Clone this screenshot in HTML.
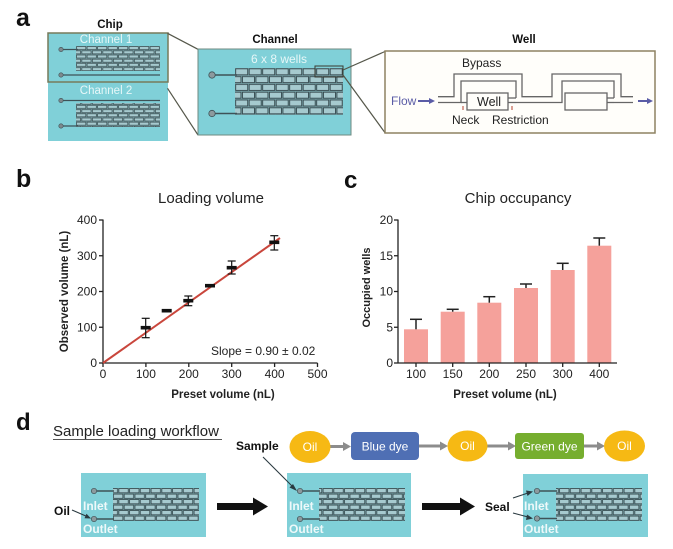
<!DOCTYPE html>
<html><head><meta charset="utf-8"><style>
html,body{margin:0;padding:0;background:#fff;}
svg{display:block;font-family:"Liberation Sans",Arial,sans-serif;}
</style></head><body>
<svg width="673" height="549" viewBox="0 0 673 549" xmlns="http://www.w3.org/2000/svg">
<defs>
<pattern id="pChip" patternUnits="userSpaceOnUse" x="76" y="46" width="10.5" height="8.4">
<rect x="0" y="0" width="10.5" height="8.4" fill="#7aa6ab"/>
<rect x="0.6" y="0.6" width="9.2" height="3" fill="#a6cacf" stroke="#3a4c50" stroke-width="0.7"/>
<rect x="5.85" y="4.8" width="9.2" height="3" fill="#a6cacf" stroke="#3a4c50" stroke-width="0.7"/>
<rect x="-4.65" y="4.8" width="9.2" height="3" fill="#a6cacf" stroke="#3a4c50" stroke-width="0.7"/>
</pattern>
<pattern id="pChan" patternUnits="userSpaceOnUse" x="235" y="68" width="13.5" height="15.6">
<rect x="0" y="0" width="13.5" height="15.6" fill="#7aa6ab"/>
<rect x="0.7" y="0.8" width="12" height="6" fill="#a6cacf" stroke="#36494e" stroke-width="0.9"/>
<rect x="7.45" y="8.6" width="12" height="6" fill="#a6cacf" stroke="#36494e" stroke-width="0.9"/>
<rect x="-6.05" y="8.6" width="12" height="6" fill="#a6cacf" stroke="#36494e" stroke-width="0.9"/>
</pattern>
<pattern id="pD" patternUnits="userSpaceOnUse" x="0" y="488" width="10.75" height="11">
<rect x="0" y="0" width="10.75" height="11" fill="#7aa6ab"/>
<rect x="0.6" y="0.6" width="9.4" height="4.2" fill="#a6cacf" stroke="#36494e" stroke-width="0.8"/>
<rect x="5.97" y="6.1" width="9.4" height="4.2" fill="#a6cacf" stroke="#36494e" stroke-width="0.8"/>
<rect x="-4.78" y="6.1" width="9.4" height="4.2" fill="#a6cacf" stroke="#36494e" stroke-width="0.8"/>
</pattern>
</defs>

<!-- ============ PANEL A ============ -->
<text x="16" y="26" font-size="25" font-weight="bold" fill="#111">a</text>
<text x="110" y="28" font-size="11.5" font-weight="bold" text-anchor="middle" fill="#111">Chip</text>
<text x="275" y="43" font-size="11.5" font-weight="bold" text-anchor="middle" fill="#111">Channel</text>
<text x="524" y="43" font-size="11.5" font-weight="bold" text-anchor="middle" fill="#111">Well</text>

<!-- chip -->
<rect x="48" y="82" width="120" height="59" fill="#80d0d8"/>
<rect x="48" y="33" width="120" height="49" fill="#80d0d8" stroke="#777a5a" stroke-width="1.5"/>
<text x="106" y="43" font-size="11.5" text-anchor="middle" fill="#e6f7f8">Channel 1</text>
<text x="106" y="94" font-size="11.5" text-anchor="middle" fill="#e6f7f8">Channel 2</text>
<rect x="76" y="46" width="84" height="25" fill="url(#pChip)"/>
<rect x="76" y="103" width="84" height="24" fill="url(#pChip)"/>
<g stroke="#3e5257" stroke-width="1.2">
<line x1="61" y1="49.5" x2="78" y2="49.5"/>
<line x1="61" y1="75" x2="160" y2="75"/>
<line x1="61" y1="100.5" x2="160" y2="100.5"/>
<line x1="61" y1="126" x2="78" y2="126"/>
</g>
<g fill="#7d8a8e" stroke="#3e5257" stroke-width="0.6">
<circle cx="61" cy="49.5" r="2.2"/><circle cx="61" cy="75" r="2.2"/>
<circle cx="61" cy="100.5" r="2.2"/><circle cx="61" cy="126" r="2.2"/>
</g>
<g stroke="#55574a" stroke-width="1.2">
<line x1="167.5" y1="33.3" x2="198" y2="49.3"/>
<line x1="167.5" y1="88.3" x2="198" y2="135"/>
</g>

<!-- channel -->
<rect x="198" y="49" width="153" height="86" fill="#80d0d8" stroke="#6f8a80" stroke-width="1"/>
<text x="279" y="63" font-size="12" text-anchor="middle" fill="#e6f7f8">6 x 8 wells</text>
<rect x="235" y="68" width="108" height="47" fill="url(#pChan)"/>
<rect x="315" y="66" width="28" height="11" fill="none" stroke="#3a3a30" stroke-width="1"/>
<g stroke="#3e5257" stroke-width="1.6">
<line x1="212" y1="75" x2="237" y2="75"/>
<line x1="212" y1="113.5" x2="237" y2="113.5"/>
</g>
<g fill="#8c9a9e" stroke="#3e5257" stroke-width="0.8">
<circle cx="212" cy="75" r="3.2"/><circle cx="212" cy="113.5" r="3.2"/>
</g>
<g stroke="#55574a" stroke-width="1.2">
<line x1="343" y1="70" x2="385" y2="51.5"/>
<line x1="343" y1="75" x2="385" y2="132.7"/>
</g>

<!-- well -->
<rect x="385" y="51" width="270" height="82" fill="#fffefa" stroke="#8d8262" stroke-width="1.5"/>
<text x="462" y="67" font-size="12" fill="#222">Bypass</text>
<text x="391" y="105" font-size="12" fill="#5a5ca6">Flow</text>
<g stroke="#5a5ca6" stroke-width="2" fill="#5a5ca6">
<line x1="418" y1="101" x2="430" y2="101"/><polygon points="429,98 435,101 429,104" stroke="none"/>
<line x1="638" y1="101" x2="648" y2="101"/><polygon points="647,98 653,101 647,104" stroke="none"/>
</g>
<g fill="none" stroke="#666" stroke-width="1.3">
<polyline points="438,96.7 454,96.7 454,74 522,74 522,96.7 552,96.7 552,74 621,74 621,96.7 633,96.7"/>
<polyline points="438,102.5 461,102.5 461,81 516,81 516,98"/>
<polyline points="516,102.5 562,102.5 562,81 614,81 614,98"/>
<line x1="614" y1="102.5" x2="633" y2="102.5"/>
<rect x="467" y="93" width="41" height="17"/>
<rect x="565" y="93" width="42" height="17"/>
<line x1="461" y1="102.5" x2="467" y2="102.5"/>
<line x1="508" y1="98" x2="516" y2="98"/>
<line x1="508" y1="102.5" x2="516" y2="102.5"/>
<line x1="607" y1="98" x2="614" y2="98"/>
<line x1="607" y1="102.5" x2="614" y2="102.5"/>
</g>
<g stroke="#c06050" stroke-width="1.2">
<line x1="463" y1="106" x2="463" y2="110"/>
<line x1="512" y1="106" x2="512" y2="110"/>
</g>
<text x="477" y="106" font-size="12.5" fill="#222">Well</text>
<text x="452" y="124" font-size="12" fill="#222">Neck</text>
<text x="492" y="124" font-size="12" fill="#222">Restriction</text>

<!-- ============ PANEL B ============ -->
<text x="16" y="187" font-size="25" font-weight="bold" fill="#111">b</text>
<text x="211" y="203" font-size="15" text-anchor="middle" fill="#222">Loading volume</text>
<g stroke="#222" stroke-width="1.3" fill="none">
<line x1="103" y1="219.5" x2="103" y2="363"/>
<line x1="103" y1="363" x2="317.5" y2="363"/>
<line x1="99" y1="363" x2="103" y2="363"/><line x1="99" y1="327.25" x2="103" y2="327.25"/>
<line x1="99" y1="291.5" x2="103" y2="291.5"/><line x1="99" y1="255.75" x2="103" y2="255.75"/>
<line x1="99" y1="220" x2="103" y2="220"/>
<line x1="103" y1="363" x2="103" y2="367"/><line x1="145.9" y1="363" x2="145.9" y2="367"/>
<line x1="188.8" y1="363" x2="188.8" y2="367"/><line x1="231.7" y1="363" x2="231.7" y2="367"/>
<line x1="274.6" y1="363" x2="274.6" y2="367"/><line x1="317.5" y1="363" x2="317.5" y2="367"/>
</g>
<g font-size="12" fill="#222" text-anchor="end">
<text x="97" y="367">0</text><text x="97" y="331.5">100</text><text x="97" y="295.5">200</text>
<text x="97" y="260">300</text><text x="97" y="224">400</text>
</g>
<g font-size="12" fill="#222" text-anchor="middle">
<text x="103" y="378">0</text><text x="145.9" y="378">100</text><text x="188.8" y="378">200</text>
<text x="231.7" y="378">300</text><text x="274.6" y="378">400</text><text x="317.5" y="378">500</text>
</g>
<text transform="translate(68,291.5) rotate(-90)" font-size="11.5" font-weight="bold" text-anchor="middle" fill="#222">Observed volume (nL)</text>
<text x="223" y="398" font-size="11.5" font-weight="bold" text-anchor="middle" fill="#222">Preset volume (nL)</text>
<line x1="103" y1="363" x2="280" y2="238" stroke="#c9463c" stroke-width="2"/>
<g stroke="#111" stroke-width="1.2">
<line x1="145.7" y1="318.3" x2="145.7" y2="337.7"/><line x1="141.7" y1="318.3" x2="149.7" y2="318.3"/><line x1="141.7" y1="337.7" x2="149.7" y2="337.7"/>
<line x1="188.3" y1="296" x2="188.3" y2="305.7"/><line x1="184.3" y1="296" x2="192.3" y2="296"/><line x1="184.3" y1="305.7" x2="192.3" y2="305.7"/>
<line x1="231.7" y1="261" x2="231.7" y2="274"/><line x1="227.7" y1="261" x2="235.7" y2="261"/><line x1="227.7" y1="274" x2="235.7" y2="274"/>
<line x1="274.3" y1="235.7" x2="274.3" y2="250"/><line x1="270.3" y1="235.7" x2="278.3" y2="235.7"/><line x1="270.3" y1="250" x2="278.3" y2="250"/>
</g>
<g fill="#111">
<rect x="140.7" y="325.9" width="10" height="3.6"/>
<rect x="161.7" y="308.9" width="10" height="3.6"/>
<rect x="183.3" y="298.9" width="10" height="3.6"/>
<rect x="205" y="283.9" width="10" height="3.6"/>
<rect x="226.7" y="265.9" width="10" height="3.6"/>
<rect x="269.3" y="240.5" width="10" height="3.6"/>
</g>
<text x="211" y="355" font-size="12" fill="#222">Slope = 0.90 ± 0.02</text>

<!-- ============ PANEL C ============ -->
<text x="344" y="188" font-size="24" font-weight="bold" fill="#111">c</text>
<text x="518" y="203" font-size="15" text-anchor="middle" fill="#222">Chip occupancy</text>
<g fill="#f5a19b">
<rect x="404" y="329.3" width="24" height="33.7"/>
<rect x="440.7" y="311.7" width="24" height="51.3"/>
<rect x="477.3" y="302.7" width="24" height="60.3"/>
<rect x="514" y="288" width="24" height="75"/>
<rect x="550.7" y="270" width="24" height="93"/>
<rect x="587.3" y="245.7" width="24" height="117.3"/>
</g>
<g stroke="#222" stroke-width="1.5">
<line x1="416" y1="319.3" x2="416" y2="329.3"/><line x1="410" y1="319.3" x2="422" y2="319.3"/>
<line x1="452.7" y1="309.3" x2="452.7" y2="311.7"/><line x1="446.7" y1="309.3" x2="458.7" y2="309.3"/>
<line x1="489.3" y1="296.7" x2="489.3" y2="302.7"/><line x1="483.3" y1="296.7" x2="495.3" y2="296.7"/>
<line x1="526" y1="284" x2="526" y2="288"/><line x1="520" y1="284" x2="532" y2="284"/>
<line x1="562.7" y1="263.3" x2="562.7" y2="270"/><line x1="556.7" y1="263.3" x2="568.7" y2="263.3"/>
<line x1="599.3" y1="238" x2="599.3" y2="245.7"/><line x1="593.3" y1="238" x2="605.3" y2="238"/>
</g>
<g stroke="#222" stroke-width="1.3" fill="none">
<line x1="398" y1="219.5" x2="398" y2="363"/>
<line x1="398" y1="363" x2="617" y2="363"/>
<line x1="394" y1="363" x2="398" y2="363"/><line x1="394" y1="327.25" x2="398" y2="327.25"/>
<line x1="394" y1="291.5" x2="398" y2="291.5"/><line x1="394" y1="255.75" x2="398" y2="255.75"/>
<line x1="394" y1="220" x2="398" y2="220"/>
<line x1="416" y1="363" x2="416" y2="367"/><line x1="452.7" y1="363" x2="452.7" y2="367"/>
<line x1="489.3" y1="363" x2="489.3" y2="367"/><line x1="526" y1="363" x2="526" y2="367"/>
<line x1="562.7" y1="363" x2="562.7" y2="367"/><line x1="599.3" y1="363" x2="599.3" y2="367"/>
</g>
<g font-size="12" fill="#222" text-anchor="end">
<text x="393" y="367">0</text><text x="393" y="331.5">5</text><text x="393" y="295.5">10</text>
<text x="393" y="260">15</text><text x="393" y="224">20</text>
</g>
<g font-size="12" fill="#222" text-anchor="middle">
<text x="416" y="378">100</text><text x="452.7" y="378">150</text><text x="489.3" y="378">200</text>
<text x="526" y="378">250</text><text x="562.7" y="378">300</text><text x="599.3" y="378">400</text>
</g>
<text transform="translate(370,287.5) rotate(-90)" font-size="11" font-weight="bold" text-anchor="middle" fill="#222">Occupied wells</text>
<text x="505" y="398" font-size="11.5" font-weight="bold" text-anchor="middle" fill="#222">Preset volume (nL)</text>

<!-- ============ PANEL D ============ -->
<text x="16" y="430" font-size="24" font-weight="bold" fill="#111">d</text>
<text x="53" y="436" font-size="15" fill="#222">Sample loading workflow</text>
<line x1="53" y1="439.5" x2="222" y2="439.5" stroke="#555" stroke-width="1"/>

<!-- flow row -->
<g stroke="#8c8c8c" stroke-width="3">
<line x1="329" y1="446.5" x2="345" y2="446.5"/>
<line x1="419" y1="446" x2="441" y2="446"/>
<line x1="487" y1="446" x2="509" y2="446"/>
<line x1="584" y1="446" x2="598" y2="446"/>
</g>
<g fill="#8c8c8c">
<polygon points="343,442 351,446.5 343,451"/>
<polygon points="440,441.5 448,446 440,450.5"/>
<polygon points="508,441.5 516,446 508,450.5"/>
<polygon points="597,441.5 605,446 597,450.5"/>
</g>
<g fill="#f6b914">
<ellipse cx="310" cy="447" rx="20.5" ry="16"/>
<ellipse cx="467.5" cy="446" rx="20" ry="15.5"/>
<ellipse cx="624.5" cy="446" rx="20.5" ry="15.5"/>
</g>
<rect x="351" y="432" width="68" height="28" rx="4" fill="#4f6fb4"/>
<rect x="515" y="433" width="69" height="26" rx="3" fill="#76ae2f"/>
<g font-size="12" fill="#fff" text-anchor="middle">
<text x="310" y="451">Oil</text>
<text x="467.5" y="450">Oil</text>
<text x="624.5" y="450">Oil</text>
<text x="385" y="450.5">Blue dye</text>
<text x="549.5" y="450.5">Green dye</text>
</g>

<!-- chips -->
<rect x="81" y="473" width="125" height="64" fill="#80d0d8"/>
<rect x="287" y="473" width="124" height="64" fill="#80d0d8"/>
<rect x="523" y="474" width="125" height="63" fill="#80d0d8"/>
<rect x="113" y="488" width="86" height="33" fill="url(#pD)"/>
<rect x="319" y="488" width="86" height="33" fill="url(#pD)"/>
<rect x="556" y="488" width="86" height="33" fill="url(#pD)"/>
<g stroke="#3e5257" stroke-width="1.4">
<line x1="94" y1="491" x2="114" y2="491"/><line x1="94" y1="519" x2="114" y2="519"/>
<line x1="300" y1="491" x2="320" y2="491"/><line x1="300" y1="519" x2="320" y2="519"/>
<line x1="537" y1="491" x2="557" y2="491"/><line x1="537" y1="518.5" x2="557" y2="518.5"/>
</g>
<g fill="#8c9a9e" stroke="#3e5257" stroke-width="0.7">
<circle cx="94" cy="491" r="2.7"/><circle cx="94" cy="519" r="2.7"/>
<circle cx="300" cy="491" r="2.7"/><circle cx="300" cy="519" r="2.7"/>
<circle cx="537" cy="491" r="2.7"/><circle cx="537" cy="518.5" r="2.7"/>
</g>
<g font-size="12" font-weight="bold" fill="#eef9fa">
<text x="83" y="510">Inlet</text><text x="83" y="533">Outlet</text>
<text x="289" y="510">Inlet</text><text x="289" y="533">Outlet</text>
<text x="524" y="510">Inlet</text><text x="524" y="533">Outlet</text>
</g>

<!-- labels & small arrows -->
<g font-size="12" font-weight="bold" fill="#111">
<text x="54" y="515">Oil</text>
<text x="236" y="450">Sample</text>
<text x="485" y="511">Seal</text>
</g>
<g stroke="#2a3a40" stroke-width="1.1">
<line x1="72" y1="510" x2="87" y2="516.5"/>
<line x1="263" y1="457" x2="293" y2="487"/>
<line x1="513" y1="498" x2="528" y2="493"/>
<line x1="513" y1="513" x2="528" y2="517"/>
</g>
<g fill="#2a3a40">
<polygon points="91,518.5 84.5,518.3 86.5,513.7"/>
<polygon points="297,491 289.5,487.5 293,484"/>
<polygon points="533,491.5 527.5,496 526,490.5"/>
<polygon points="533,518.5 526,520 527,514.5"/>
</g>

<!-- big arrows -->
<g fill="#111">
<rect x="217" y="503" width="38" height="7"/>
<polygon points="253,497.5 268,506.5 253,515.5"/>
<rect x="422" y="503" width="40" height="7"/>
<polygon points="460,497.5 475,506.5 460,515.5"/>
</g>
</svg>
</body></html>
